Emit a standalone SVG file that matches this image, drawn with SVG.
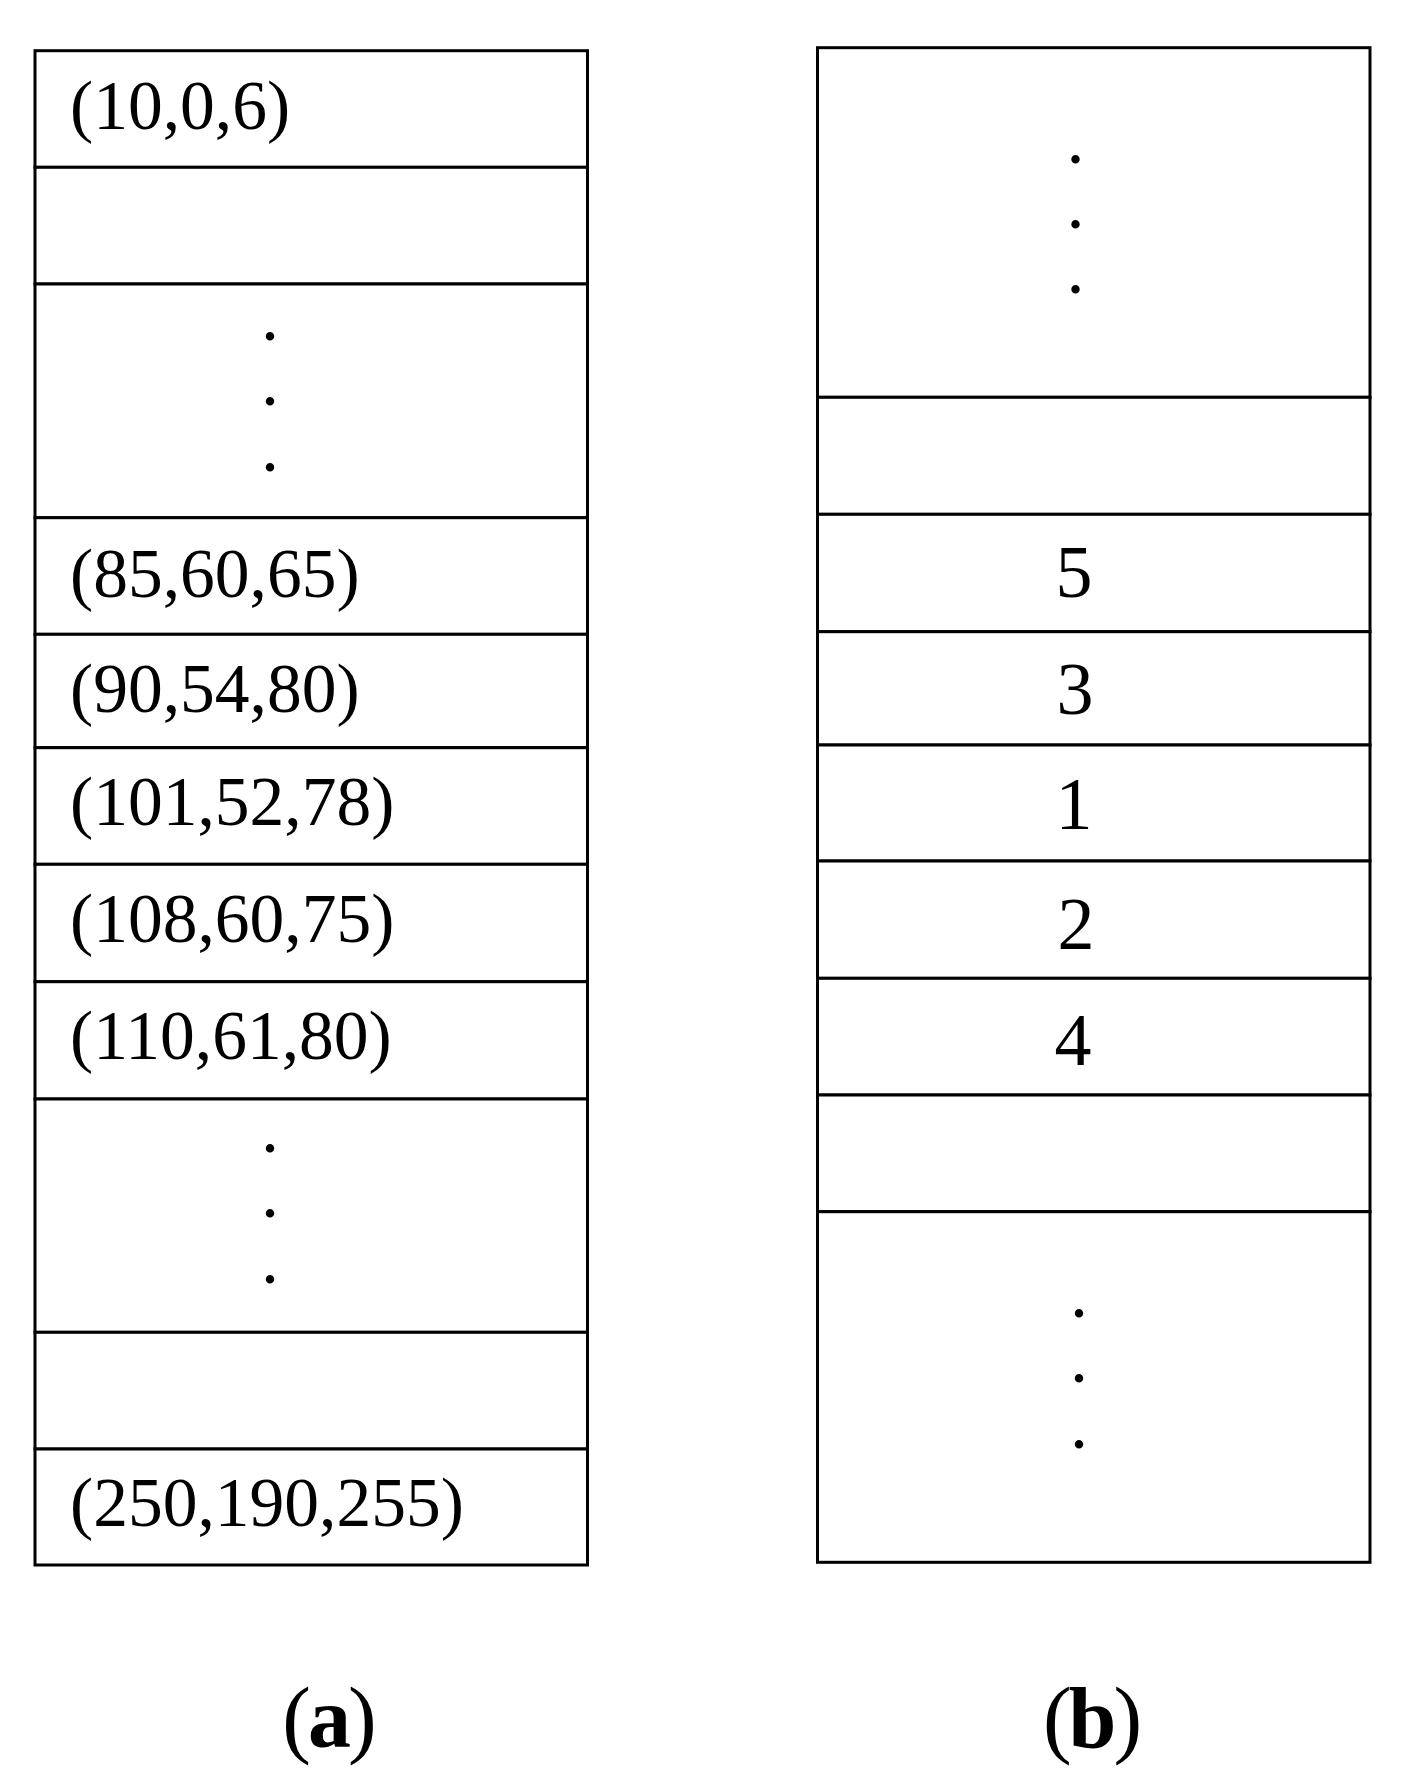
<svg xmlns="http://www.w3.org/2000/svg" width="1406" height="1785" viewBox="0 0 1406 1785">
<style>
.cell{fill:#fff;stroke:#000;stroke-width:3}
.lbl{font-family:"Liberation Serif","Times New Roman",serif;font-size:69.5px;fill:#000}
.num{font-family:"Liberation Serif","Times New Roman",serif;font-size:74px;fill:#000;text-anchor:middle}
.dot{font-family:"Liberation Serif","Times New Roman",serif;font-size:52px;font-weight:bold;fill:#000;text-anchor:middle}
.cap{font-family:"Liberation Serif","Times New Roman",serif;font-size:86px;letter-spacing:-3px;fill:#000;text-anchor:middle}
</style>
<rect width="1406" height="1785" fill="#fff"/>
<g id="table-a">
  <g id="a-row1"><rect class="cell" x="35" y="50.7" width="552.5" height="116.6"/><text class="lbl" x="70" y="128.5">(10,0,6)</text></g>
  <g id="a-row2"><rect class="cell" x="35" y="167.3" width="552.5" height="116.7"/></g>
  <g id="a-row3"><rect class="cell" x="35" y="284" width="552.5" height="233.7"/>
    <text class="dot" x="270" y="340">.</text><text class="dot" x="270" y="405">.</text><text class="dot" x="270" y="470.5">.</text></g>
  <g id="a-row4"><rect class="cell" x="35" y="517.7" width="552.5" height="116.6"/><text class="lbl" x="70" y="596.5">(85,60,65)</text></g>
  <g id="a-row5"><rect class="cell" x="35" y="634.3" width="552.5" height="113.4"/><text class="lbl" x="70" y="711.5">(90,54,80)</text></g>
  <g id="a-row6"><rect class="cell" x="35" y="747.7" width="552.5" height="116.6"/><text class="lbl" x="70" y="825">(101,52,78)</text></g>
  <g id="a-row7"><rect class="cell" x="35" y="864.3" width="552.5" height="117.4"/><text class="lbl" x="70" y="942">(108,60,75)</text></g>
  <g id="a-row8"><rect class="cell" x="35" y="981.7" width="552.5" height="117.3"/><text class="lbl" x="70" y="1058.5">(110,61,80)</text></g>
  <g id="a-row9"><rect class="cell" x="35" y="1099" width="552.5" height="233.3"/>
    <text class="dot" x="270" y="1152">.</text><text class="dot" x="270" y="1217">.</text><text class="dot" x="270" y="1282.5">.</text></g>
  <g id="a-row10"><rect class="cell" x="35" y="1332.3" width="552.5" height="116.7"/></g>
  <g id="a-row11"><rect class="cell" x="35" y="1449" width="552.5" height="116"/><text class="lbl" x="70" y="1526">(250,190,255)</text></g>
</g>
<g id="table-b">
  <g id="b-row1"><rect class="cell" x="817.5" y="47.7" width="552.5" height="349.6"/>
    <text class="dot" x="1075.5" y="163">.</text><text class="dot" x="1075.5" y="228">.</text><text class="dot" x="1075.5" y="293">.</text></g>
  <g id="b-row2"><rect class="cell" x="817.5" y="397.3" width="552.5" height="117"/></g>
  <g id="b-row3"><rect class="cell" x="817.5" y="514.3" width="552.5" height="117.4"/><text class="num" x="1074" y="597">5</text></g>
  <g id="b-row4"><rect class="cell" x="817.5" y="631.7" width="552.5" height="113.3"/><text class="num" x="1075" y="714">3</text></g>
  <g id="b-row5"><rect class="cell" x="817.5" y="745" width="552.5" height="116"/><text class="num" x="1074" y="828.5">1</text></g>
  <g id="b-row6"><rect class="cell" x="817.5" y="861" width="552.5" height="117.3"/><text class="num" x="1076" y="948.5">2</text></g>
  <g id="b-row7"><rect class="cell" x="817.5" y="978.3" width="552.5" height="116.7"/><text class="num" x="1073" y="1065">4</text></g>
  <g id="b-row8"><rect class="cell" x="817.5" y="1095" width="552.5" height="116.7"/></g>
  <g id="b-row9"><rect class="cell" x="817.5" y="1211.7" width="552.5" height="350.6"/>
    <text class="dot" x="1079" y="1317">.</text><text class="dot" x="1079" y="1382">.</text><text class="dot" x="1079" y="1447.5">.</text></g>
</g>
<g id="captions">
  <text class="cap" x="328" y="1747">(<tspan font-weight="bold">a</tspan>)</text>
  <text class="cap" x="1091" y="1747">(<tspan font-weight="bold">b</tspan>)</text>
</g>
</svg>
